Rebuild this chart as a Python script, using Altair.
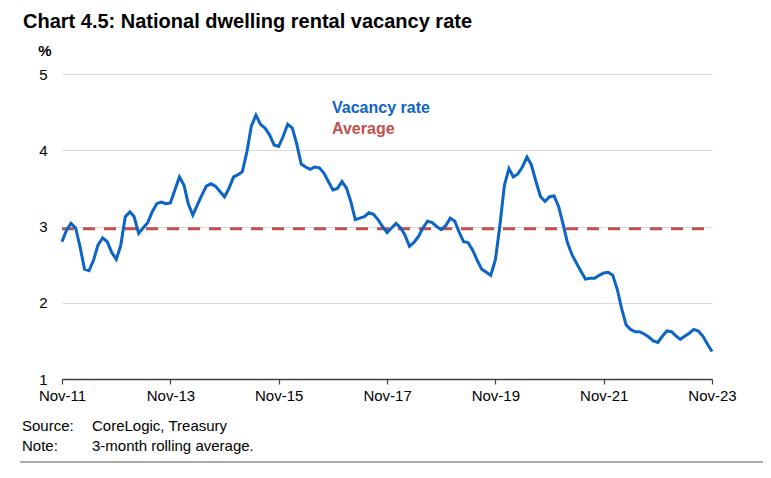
import altair as alt
import pandas as pd

# ---------------- data ----------------
start_month = "2011-11-01"
vacancy_rate = [
    2.80, 2.95, 3.04, 2.98, 2.74, 2.44, 2.42, 2.56, 2.76, 2.85, 2.80, 2.66,
    2.57, 2.75, 3.13, 3.19, 3.13, 2.91, 2.98, 3.05, 3.19, 3.30, 3.32, 3.30,
    3.31, 3.48, 3.65, 3.54, 3.30, 3.15, 3.28, 3.41, 3.53, 3.56, 3.53, 3.46,
    3.39, 3.50, 3.65, 3.68, 3.72, 3.98, 4.32, 4.46, 4.34, 4.29, 4.20, 4.07,
    4.05, 4.18, 4.34, 4.29, 4.09, 3.82, 3.78, 3.75, 3.78, 3.77, 3.70, 3.59,
    3.48, 3.50, 3.59, 3.50, 3.33, 3.09, 3.11, 3.13, 3.18, 3.16, 3.09, 3.00,
    2.92, 2.98, 3.04, 2.98, 2.89, 2.74, 2.79, 2.87, 2.98, 3.07, 3.05, 3.00,
    2.96, 3.01, 3.11, 3.07, 2.93, 2.80, 2.79, 2.69, 2.56, 2.44, 2.40, 2.36,
    2.56, 3.00, 3.54, 3.76, 3.65, 3.69, 3.78, 3.91, 3.81, 3.59, 3.39, 3.33,
    3.39, 3.40, 3.26, 3.02, 2.79, 2.63, 2.52, 2.41, 2.31, 2.32, 2.32, 2.36,
    2.39, 2.40, 2.36, 2.17, 1.93, 1.71, 1.65, 1.62, 1.62, 1.59, 1.55, 1.50,
    1.48, 1.56, 1.63, 1.62, 1.57, 1.52, 1.56, 1.60, 1.65, 1.63, 1.56, 1.46,
    1.36,
]
average_rate = [2.97]
tick_years = [2011, 2013, 2015, 2017, 2019, 2021, 2023]
y_ticks = [1, 2, 3, 4, 5]
title_text = ["Chart 4.5: National dwelling rental vacancy rate"]
unit_text = ["%"]
legend_line = ["Vacancy rate"]
legend_avg = ["Average"]
source_label = ["Source:"]
source_text = ["CoreLogic, Treasury"]
note_label = ["Note:"]
note_text = ["3-month rolling average."]

# ---------------- styling ----------------
FONT = "Liberation Sans"
BLUE = "#0B64C6"
RED = "#C0504D"

dates = pd.date_range(start_month, periods=len(vacancy_rate), freq="MS")
df = pd.DataFrame({"date": dates, "rate": vacancy_rate})
avg_df = pd.DataFrame({
    "start": [dates[0]],
    "end": [dates[-1]],
    "avg": average_rate,
})

x_scale = alt.Scale(domain=[alt.DateTime(year=2011, month=11, date=1),
                            alt.DateTime(year=2023, month=11, date=1)])
y_scale = alt.Scale(domain=[1, 5], nice=False, zero=False)

x_axis = alt.Axis(
    values=[alt.DateTime(year=y, month=11, date=1) for y in tick_years],
    format="%b-%y", title=None, grid=False,
    domainColor="#404040", domainWidth=1.5,
    tickColor="#404040", tickSize=5, tickWidth=1.2,
    labelFont=FONT, labelFontSize=15, labelColor="#000000", labelPadding=4,
    labelFlush=False,
)
y_axis = alt.Axis(
    values=y_ticks, format="d", title=None, grid=True, gridColor="#D9D9D9", gridWidth=1,
    domain=False, ticks=False, labelPadding=15,
    labelFont=FONT, labelFontSize=15, labelColor="#000000",
)

line = alt.Chart(df).mark_line(color=BLUE, strokeWidth=3).encode(
    x=alt.X("date:T", scale=x_scale, axis=x_axis),
    y=alt.Y("rate:Q", scale=y_scale, axis=y_axis),
)

avg_rule = alt.Chart(avg_df).mark_rule(color=RED, strokeWidth=3, strokeDash=[12, 9]).encode(
    x=alt.X("start:T", scale=x_scale),
    x2="end:T",
    y=alt.Y("avg:Q", scale=y_scale),
)


def label(texts, x, y, size, bold=False, color="#000000", align="left", baseline="alphabetic"):
    return alt.Chart(pd.DataFrame({"t": texts})).mark_text(
        align=align, baseline=baseline, font=FONT, fontSize=size,
        fontWeight="bold" if bold else "normal", color=color,
    ).encode(x=alt.value(x), y=alt.value(y), text="t:N")


title = label(title_text, -39, -46, 20, bold=True)
unit = label(unit_text, -17, -18, 15, bold=True, align="center")
leg1 = label(legend_line, 270, 39, 16, bold=True, color=BLUE)
leg2 = label(legend_avg, 270, 60, 16, bold=True, color=RED)
src1 = label(source_label, -40, 357, 15)
src2 = label(source_text, 30, 357, 15)
note1 = label(note_label, -40, 377, 15)
note2 = label(note_text, 30, 377, 15)

bottom_rule = alt.Chart(pd.DataFrame({"a": [0]})).mark_rule(
    color="#595959", strokeWidth=1.2
).encode(x=alt.value(-42), x2=alt.value(701), y=alt.value(388))

chart = alt.layer(
    avg_rule, line, title, unit, leg1, leg2, src1, src2, note1, note2, bottom_rule
).properties(
    width=650, height=305,
    autosize=alt.AutoSizeParams(type="none"),
    padding={"left": 54, "top": 66, "right": 51, "bottom": 86},
).configure_view(stroke=None)

chart.save("out.html", embed_options={"renderer": "svg", "actions": False})
